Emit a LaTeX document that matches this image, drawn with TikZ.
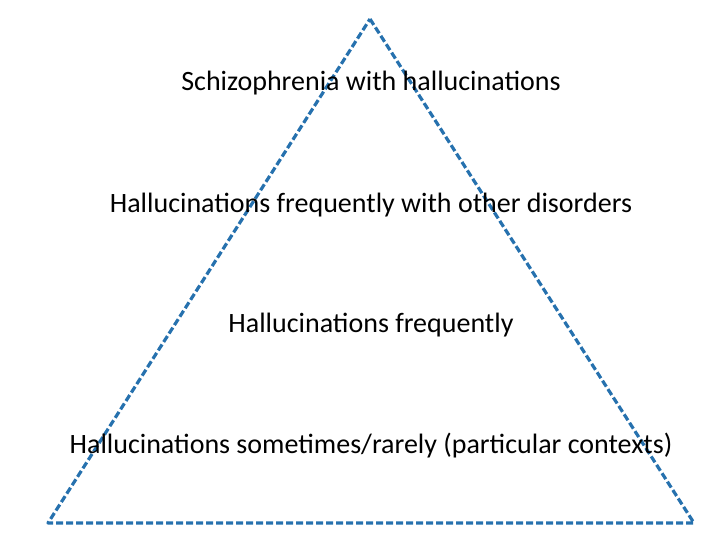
\documentclass[tikz,border=0pt]{standalone}
\usepackage{fontspec}
\setmainfont{Carlito}
\definecolor{pyrblue}{RGB}{38,113,174}

\begin{document}
\begin{tikzpicture}[
    x=1pt, y=-1pt,
    font=\fontsize{28}{32}\selectfont,
    % --- Style Definitions ---
    edgeline/.style={
        draw=pyrblue, line width=3.2pt,
        dash pattern=on 7pt off 3pt, line join=round
    },
    level/.style={
        text=black, inner sep=2pt, anchor=center
    }
]
\useasboundingbox (0,0) rectangle (720,540);

% ================= Triangle corners =================
\coordinate (apex) at (370,19);
\coordinate (left) at (48,523);
\coordinate (right) at (694,523);

\draw[edgeline] (apex) -- (right) -- (left) -- cycle;

% ================= Levels =================
\node[level] (top)    at (371,83)  {Schizophrenia with hallucinations};
\node[level] (second) at (371,205) {Hallucinations frequently with other disorders};
\node[level] (third)  at (371,325) {Hallucinations frequently};
\node[level] (bottom) at (371,446) {Hallucinations sometimes/rarely (particular contexts)};

\end{tikzpicture}
\end{document}
